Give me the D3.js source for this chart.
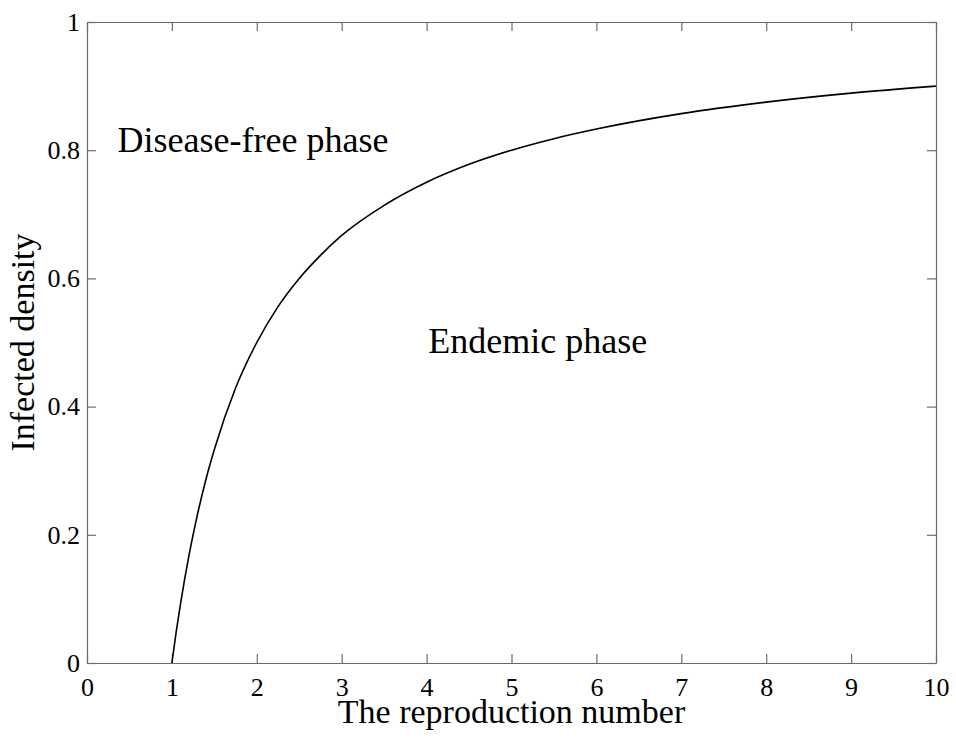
<!DOCTYPE html>
<html>
<head>
<meta charset="utf-8">
<script src="https://cdn.jsdelivr.net/npm/d3@7"></script>
<style>
  body { margin: 0; background: #fff; }
  svg text { font-family: "Liberation Serif", "DejaVu Serif", serif; fill: #000; }
</style>
</head>
<body>
<svg id="chart" width="956" height="743"></svg>
<script>
// Reproduction number (x) and equilibrium infected density (y) along the curve
const reproduction = [1, 1.05, 1.1, 1.2, 1.3, 1.4, 1.5, 1.75, 2, 2.25, 2.5, 2.75, 3, 3.5, 4, 4.5, 5, 5.5, 6, 7, 8, 9, 10];
const infected     = [0, 0.048, 0.091, 0.167, 0.231, 0.286, 0.333, 0.429, 0.5, 0.556, 0.6, 0.636, 0.667, 0.714, 0.75, 0.778, 0.8, 0.818, 0.833, 0.857, 0.875, 0.889, 0.9];

const xTicks = [0, 1, 2, 3, 4, 5, 6, 7, 8, 9, 10];
const yTicks = [0, 0.2, 0.4, 0.6, 0.8, 1];

const phaseLabels = ["Disease-free phase", "Endemic phase"];
const phaseAnchors = [[0.36, 0.797], [4.02, 0.484]];

const plotL = 87, plotT = 22, plotR = 936, plotB = 663;

const svg = d3.select("#chart");
const x = d3.scaleLinear().domain([0, 10]).range([plotL, plotR]);
const y = d3.scaleLinear().domain([0, 1]).range([plotB, plotT]);

const axisColor = "#6b6b6b";
const tickLen = 9;

// Mirrored inward ticks on all four sides
const bottomAxis = svg.append("g").attr("transform", `translate(0,${plotB})`)
  .call(d3.axisBottom(x).tickValues(xTicks).tickSizeInner(-tickLen).tickSizeOuter(0).tickPadding(15).tickFormat(d3.format("d")));
const topAxis = svg.append("g").attr("transform", `translate(0,${plotT})`)
  .call(d3.axisTop(x).tickValues(xTicks).tickSizeInner(-tickLen).tickSizeOuter(0).tickFormat(""));
const leftAxis = svg.append("g").attr("transform", `translate(${plotL},0)`)
  .call(d3.axisLeft(y).tickValues(yTicks).tickSizeInner(-tickLen).tickSizeOuter(0).tickPadding(7)
    .tickFormat(d => d === 0 || d === 1 ? d3.format("d")(d) : d3.format(".1f")(d)));
const rightAxis = svg.append("g").attr("transform", `translate(${plotR},0)`)
  .call(d3.axisRight(y).tickValues(yTicks).tickSizeInner(-tickLen).tickSizeOuter(0).tickFormat(""));

[bottomAxis, topAxis, leftAxis, rightAxis].forEach(g => {
  g.select(".domain").attr("stroke", axisColor).attr("stroke-width", 1.2);
  g.selectAll(".tick line").attr("stroke", axisColor).attr("stroke-width", 1.2);
  g.selectAll(".tick text").attr("font-size", 26).attr("font-family", "Liberation Serif").attr("fill", "#000");
});

// Curve
const line = d3.line().x((d, i) => x(reproduction[i])).y(d => y(d)).curve(d3.curveMonotoneX);
svg.append("path").datum(infected).attr("d", line)
  .attr("fill", "none").attr("stroke", "#000").attr("stroke-width", 1.6);

// Phase annotations
svg.selectAll(".phase").data(phaseLabels).enter().append("text")
  .attr("class", "phase")
  .attr("x", (d, i) => x(phaseAnchors[i][0]))
  .attr("y", (d, i) => y(phaseAnchors[i][1]))
  .attr("font-size", 36)
  .text(d => d);

// Axis titles
svg.append("text").attr("x", (plotL + plotR) / 2).attr("y", 723)
  .attr("text-anchor", "middle").attr("font-size", 34).text("The reproduction number");
svg.append("text").attr("transform", `translate(34,${(plotT + plotB) / 2}) rotate(-90)`)
  .attr("text-anchor", "middle").attr("font-size", 34).text("Infected density");
</script>
</body>
</html>
